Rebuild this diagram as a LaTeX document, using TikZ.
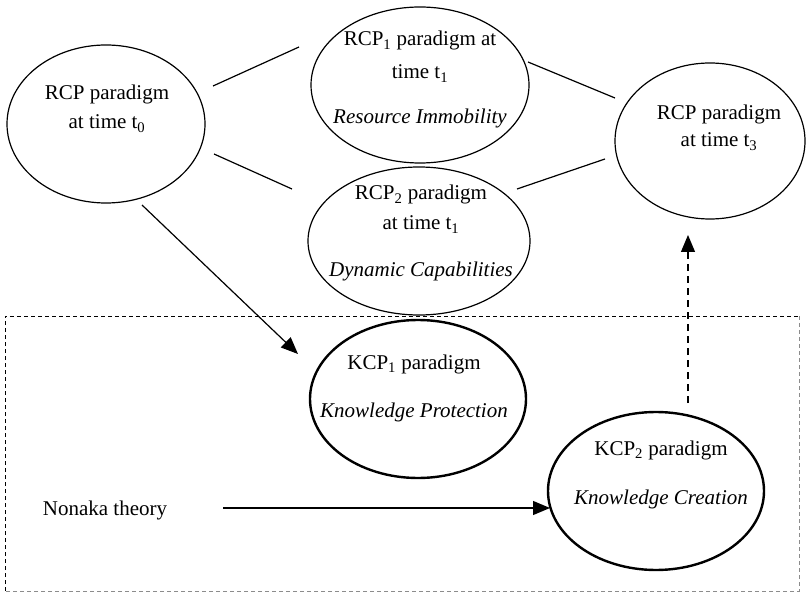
\documentclass[tikz,border=0pt]{standalone}
\usepackage{fontspec}
\setmainfont{Liberation Serif}
\usetikzlibrary{shapes.geometric,arrows.meta}
\begin{document}
\begin{tikzpicture}[x=1pt,y=-1pt,
  oval/.style={draw, ellipse, line width=1.2pt, inner sep=0pt},
  koval/.style={oval, line width=2.4pt},
  lbl/.style={anchor=base, inner sep=0pt, font=\fontsize{21}{25}\selectfont},
  link/.style={line width=1.2pt},
  tip/.style={-{Triangle[length=17pt,width=14pt]}},
  frame/.style={line width=0.9pt, dash pattern=on 4pt off 3pt}
]
\useasboundingbox (0,0) rectangle (808,593);

% theory frame
\draw[frame] (5,591) -- (5,316) -- (799,316);
\draw[frame, black!45] (799,316) -- (799,591) -- (5,591);

% paradigm ovals
\node[oval, minimum width=198pt, minimum height=158pt] (rcp0) at (106,124) {};
\node[oval, minimum width=218pt, minimum height=156pt] (rcp1) at (420,85) {};
\node[oval, minimum width=222pt, minimum height=148pt] (rcp2) at (419,241) {};
\node[oval, minimum width=190pt, minimum height=156pt] (rcp3) at (710,141) {};
\node[koval, minimum width=216pt, minimum height=158pt] (kcp1) at (418,399) {};
\node[koval, minimum width=216pt, minimum height=158pt] (kcp2) at (656,491) {};

% texts
\node[lbl] (t0a) at (107,100) {RCP paradigm};
\node[lbl] (t0b) at (107,129) {at time t\textsubscript{0}};

\node[lbl] (t1a) at (420,46) {RCP\textsubscript{1} paradigm at};
\node[lbl] (t1b) at (420,79) {time t\textsubscript{1}};
\node[lbl] (t1c) at (420,124) {\itshape Resource Immobility};

\node[lbl] (t2a) at (421,200) {RCP\textsubscript{2} paradigm};
\node[lbl] (t2b) at (421,230) {at time t\textsubscript{1}};
\node[lbl] (t2c) at (421,277) {\itshape Dynamic Capabilities};

\node[lbl] (t3a) at (719,120) {RCP paradigm};
\node[lbl] (t3b) at (719,147) {at time t\textsubscript{3}};

\node[lbl] (k1a) at (414,369) {KCP\textsubscript{1} paradigm};
\node[lbl] (k1b) at (414,417) {\itshape Knowledge Protection};

\node[lbl] (k2a) at (661,455) {KCP\textsubscript{2} paradigm};
\node[lbl] (k2b) at (661,504) {\itshape Knowledge Creation};

\node[lbl] (non) at (105,515) {Nonaka theory};

% connector end points
\coordinate (p1) at (213,86);  \coordinate (p2) at (299,47);
\coordinate (p3) at (214,154); \coordinate (p4) at (292,189);
\coordinate (p5) at (528,62);  \coordinate (p6) at (615,98);
\coordinate (p7) at (517,189); \coordinate (p8) at (605,159);
\coordinate (q1) at (142,205); \coordinate (q2) at (298,354);
\coordinate (q3) at (223,508); \coordinate (q4) at (550,508);
\coordinate (q5) at (688,403); \coordinate (q6) at (688,235);

% connectors
\draw[link] (p1) -- (p2);
\draw[link] (p3) -- (p4);
\draw[link] (p5) -- (p6);
\draw[link] (p7) -- (p8);
\draw[link, tip] (q1) -- (q2);
\draw[link, tip] (q3) -- (q4);
\draw[link, tip, dash pattern=on 7pt off 5pt] (q5) -- (q6);
\end{tikzpicture}
\end{document}
